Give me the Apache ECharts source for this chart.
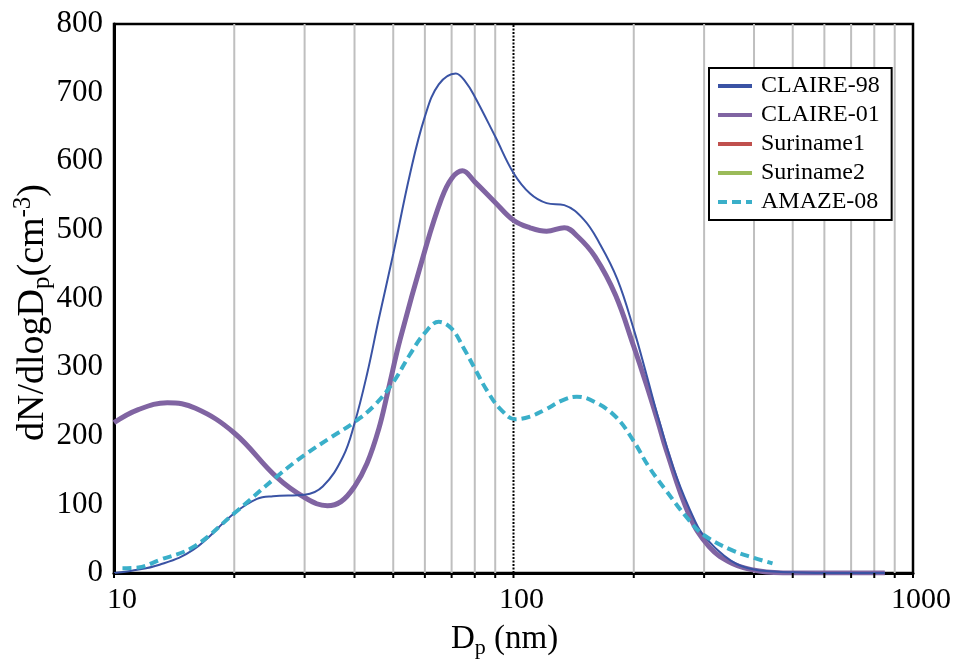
<!DOCTYPE html>
<html>
<head>
<meta charset="utf-8">
<script src="https://cdn.jsdelivr.net/npm/echarts@6/dist/echarts.min.js"></script>
<style>html,body{margin:0;padding:0;background:#fff;}#c{width:964px;height:671px;}</style>
</head>
<body>
<div id="c"></div>
<script>
// ---- data (diameter nm, dN/dlogDp) ----
var seriesNames = ['CLAIRE-98', 'CLAIRE-01', 'Suriname1', 'Suriname2', 'AMAZE-08'];
var claire98 = [[10,0],[11,3],[13,12],[15.8,34],[20,87],[22.8,108],[25,112],[30,114],[33.3,126],[37.4,169],[40,218],[43,290],[46,370],[50,465],[55,580],[60,665],[65,712],[71.7,728],[76,715],[80,694],[90,636],[100,583],[110,553],[121,539],[134,536],[150,515],[164,481],[182,428],[200,355],[215,290],[232,220],[256,140],[285,75],[300,54],[350,18],[400,5],[500,1],[600,0],[850,0]];
var claire01 = [[10,219],[11.5,238],[13.6,248],[16,240],[20,204],[25.5,140],[30,110],[34.2,98],[37,104],[40,126],[43,160],[46,210],[48.5,265],[52,340],[60,470],[66,545],[70,575],[74.5,586],[80,570],[90,540],[100,514],[110,503],[121,498],[134,503],[145,490],[160,461],[180,405],[200,330],[215,275],[230,220],[241,180],[275,85],[309,38],[353,14],[412,3],[500,0],[850,0]];
var suriname1 = [];
var suriname2 = [];
var amaze08 = [[10.5,7],[11.5,8],[13,19],[15.8,38],[20,87],[25.5,140],[30,172],[35,198],[40,220],[45,245],[50,278],[55,318],[60,350],[65,366],[70,356],[75,328],[80,298],[86,265],[93,238],[101,224],[110,228],[120,238],[133,252],[144,257],[160,249],[180,228],[199,194],[218,155],[241,120],[275,77],[300,55],[353,33],[400,22],[445,14]];
var gridVals = [20,30,40,50,60,70,80,90,200,300,400,500,600,700,800,900];
var refVals = [100];
var tickVals = [10,20,30,40,50,60,70,80,90,100,200,300,400,500,600,700,800,900,1000];
var colors = ['#3a53a4', '#8064a2', '#c0504d', '#9bbb59', '#3aafc9'];

var FONT = '"Liberation Serif", "Times New Roman", serif';
var chart = echarts.init(document.getElementById('c'), null, {renderer: 'canvas'});

function vline(color, width, dash) {
  return function (params, api) {
    var x = api.value(0);
    var p1 = api.coord([x, 0]);
    var p2 = api.coord([x, 800]);
    return {type: 'line', shape: {x1: p1[0], y1: p1[1], x2: p2[0], y2: p2[1]},
      style: {stroke: color, lineWidth: width, lineDash: dash || null}};
  };
}

function lineSeries(i, data, width, z, dash) {
  return {type: 'line', name: seriesNames[i], data: data, smooth: 0.4,
    symbol: 'none', z: z,
    lineStyle: {color: colors[i], width: width, type: dash || 'solid'},
    itemStyle: {color: colors[i]}};
}

var option = {
  animation: false,
  color: colors,
  grid: {left: 114, right: 51, top: 24, bottom: 98, show: true, borderColor: '#000', borderWidth: 2.5,
    backgroundColor: 'transparent', containLabel: false, outerBoundsMode: 'none'},
  legend: {
    data: seriesNames,
    orient: 'vertical',
    left: 709, top: 68,
    width: 184,
    padding: [6, 12, 6, 7],
    itemGap: 5,
    itemWidth: 34,
    itemHeight: 14,
    backgroundColor: '#fff',
    borderColor: '#000',
    borderWidth: 2,
    itemStyle: {color: 'transparent', opacity: 0, borderWidth: 0},
    lineStyle: {width: 4},
    textStyle: {fontFamily: FONT, fontSize: 24, color: '#000', lineHeight: 24, padding: [0, 0, 0, 4]}
  },
  xAxis: {
    type: 'log', logBase: 10, min: 10, max: 1000,
    name: '{a|D}{s|p}{a| (nm)}',
    nameLocation: 'middle', nameGap: 46,
    nameTextStyle: {padding: [0, 18, 0, 0], rich: {
      a: {fontFamily: FONT, fontSize: 33, color: '#000', lineHeight: 40},
      s: {fontFamily: FONT, fontSize: 22, color: '#000', lineHeight: 16, verticalAlign: 'bottom'}
    }},
    axisLine: {show: true, onZero: false, lineStyle: {color: '#000', width: 3}},
    axisTick: {show: false},
    splitLine: {show: false},
    minorTick: {show: false},
    axisLabel: {fontFamily: FONT, fontSize: 30, color: '#000', margin: 12, padding: [0, 0, 0, 16],
      formatter: function (v) { return String(Math.round(v)); }}
  },
  yAxis: {
    type: 'value', min: 0, max: 800, interval: 100,
    name: '{a|dN/dlogD}{s|p}{a|(cm}{u|-3}{a|)}',
    nameLocation: 'middle', nameGap: 59, nameMoveOverlap: false,
    nameTextStyle: {padding: [0, 28, 0, 0], rich: {
      a: {fontFamily: FONT, fontSize: 38, color: '#000', lineHeight: 44},
      s: {fontFamily: FONT, fontSize: 25, color: '#000', lineHeight: 18, verticalAlign: 'bottom'},
      u: {fontFamily: FONT, fontSize: 25, color: '#000', lineHeight: 18, verticalAlign: 'top'}
    }},
    axisLine: {show: true, lineStyle: {color: '#000', width: 3}},
    axisTick: {show: false},
    splitLine: {show: false},
    axisLabel: {fontFamily: FONT, fontSize: 31, color: '#000', margin: 11}
  },
  series: [
    {type: 'custom', name: 'grid', silent: true, z: 1, clip: true,
      data: gridVals.map(function (v) { return [v, 0]; }),
      renderItem: vline('#bfbfbf', 2)},
    {type: 'custom', name: 'ref', silent: true, z: 1, clip: true,
      data: refVals.map(function (v) { return [v, 0]; }),
      renderItem: vline('#000', 2, [2, 1.5])},
    {type: 'custom', name: 'ticks', silent: true, z: 5, clip: false,
      data: tickVals.map(function (v) { return [v, 0]; }),
      renderItem: function (params, api) {
        var p = api.coord([api.value(0), 0]);
        return {type: 'line', shape: {x1: p[0], y1: p[1], x2: p[0], y2: p[1] + 5},
          style: {stroke: '#000', lineWidth: 2}};
      }},
    lineSeries(0, claire98, 2, 3),
    lineSeries(1, claire01, 5, 2),
    lineSeries(2, suriname1, 4, 2),
    lineSeries(3, suriname2, 4, 2),
    lineSeries(4, amaze08, 4, 4, [9, 5])
  ]
};
chart.setOption(option);
</script>
</body>
</html>
